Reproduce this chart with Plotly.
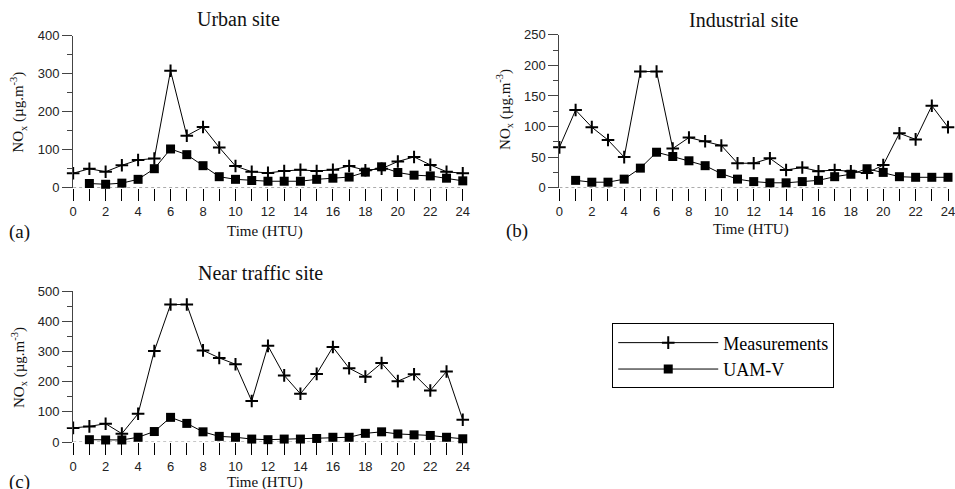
import plotly.graph_objects as go

hours = list(range(25))
hours_model = list(range(1, 25))

urban_meas = [38, 50, 42, 59, 73, 77, 308, 137, 160, 106, 57, 42, 39, 44, 47, 44, 47, 57, 46, 50, 69, 81, 60, 42, 38]
urban_model = [11, 9, 12, 22, 50, 102, 87, 58, 29, 22, 19, 17, 17, 17, 22, 25, 28, 41, 55, 40, 33, 31, 25, 18]

ind_meas = [66, 127, 99, 78, 50, 190, 190, 64, 82, 76, 69, 40, 40, 48, 29, 33, 27, 29, 27, 24, 37, 89, 79, 134, 99]
ind_model = [12, 9, 9, 14, 32, 58, 51, 44, 36, 23, 14, 10, 8, 8, 10, 12, 18, 22, 31, 25, 18, 17, 17, 17]

traf_meas = [47, 52, 61, 28, 94, 302, 456, 456, 304, 279, 258, 136, 319, 221, 160, 226, 315, 245, 217, 262, 202, 225, 171, 234, 74]
traf_model = [8, 7, 7, 16, 35, 82, 62, 34, 19, 16, 10, 8, 10, 10, 12, 16, 16, 29, 34, 27, 24, 22, 16, 11]

x_tickvals = list(range(25))
x_ticktext = [str(h) if h % 2 == 0 else "" for h in x_tickvals]

titles = ["Urban site", "Industrial site", "Near traffic site"]
letters = ["(a)", "(b)", "(c)"]
y_max = [400, 250, 500]
y_dtick = [100, 50, 100]
y_minor = [50, 25, 50]

W, H = 955, 489
# empirical correction of the rendering (offset/scale seen in the screenshot)
VOFF, VSCALE = 8.3, 0.964
HOFF, HSCALE = 2.6, 0.992
def px(x):
    return min(1.0, ((x - HOFF) / HSCALE) / W)
def py(y):
    return 1 - ((y - VOFF) / VSCALE) / H

# panel geometry (target pixels in the picture)
panels = [
    dict(x0=72, x1=463, ytop=37, ybot=188),
    dict(x0=560, x1=954, ytop=36, ybot=188),
    dict(x0=72, x1=463, ytop=291, ybot=441),
]

series = [(urban_meas, urban_model), (ind_meas, ind_model), (traf_meas, traf_model)]

fig = go.Figure()
SERIF = "Liberation Serif, Times New Roman, serif"
SANS = "Liberation Sans, Arial, sans-serif"

for i, (meas, model) in enumerate(series):
    sfx = "" if i == 0 else str(i + 1)
    fig.add_trace(go.Scatter(
        x=hours, y=meas, mode="lines+markers", name="Measurements",
        xaxis="x" + sfx, yaxis="y" + sfx, showlegend=(i == 0), cliponaxis=False,
        line=dict(color="black", width=1),
        marker=dict(symbol="cross-thin", size=9, line=dict(color="black", width=2)),
    ))
    fig.add_trace(go.Scatter(
        x=hours_model, y=model, mode="lines+markers", name="UAM-V",
        xaxis="x" + sfx, yaxis="y" + sfx, showlegend=(i == 0), cliponaxis=False,
        line=dict(color="black", width=1),
        marker=dict(symbol="square", size=9, color="black"),
    ))

layout = dict(
    width=W, height=H, margin=dict(l=0, r=0, t=0, b=0),
    paper_bgcolor="white", plot_bgcolor="white", showlegend=True,
    legend=dict(x=px(613), y=py(323), xanchor="left", yanchor="top",
                bordercolor="black", borderwidth=1, bgcolor="white",
                font=dict(family=SERIF, size=18, color="black"),
                tracegroupgap=0, itemwidth=100),
)
annotations = []
shapes = []
for i, p in enumerate(panels):
    sfx = "" if i == 0 else str(i + 1)
    layout["xaxis" + sfx] = dict(
        domain=[px(p["x0"]), px(p["x1"])], range=[0, 24], anchor="y" + sfx,
        tickvals=x_tickvals, ticktext=x_ticktext, ticks="outside", ticklen=12,
        tickcolor="black", tickwidth=1, showline=False, showgrid=False, zeroline=False,
        ticklabeloverflow="allow",
        tickfont=dict(family=SANS, size=13, color="#222"),
    )
    layout["yaxis" + sfx] = dict(
        domain=[py(p["ybot"]), py(p["ytop"])], range=[0, y_max[i]], anchor="x" + sfx,
        dtick=y_dtick[i], tick0=0, ticks="outside", ticklen=10, tickcolor="#444",
        showline=True, linecolor="#444", linewidth=1, showgrid=False, zeroline=False,
        tickfont=dict(family=SANS, size=13, color="#222"),
        minor=dict(dtick=y_minor[i], ticks="outside", ticklen=5, tickcolor="#444"),
    )
    shapes.append(dict(type="line", xref="x" + sfx, yref="y" + sfx, x0=0, x1=24, y0=0, y1=0,
                       line=dict(color="#777", width=1, dash="dot"), layer="below"))

title_pos = [(238, 20), (745, 21), (260, 273)]
time_pos = [(265, 232), (752, 230), (265, 481)]
letter_pos = [(18, 232), (517, 231), (18, 481)]
ytitle_pos = [(17, 113), (505, 110), (17, 367)]

def ann(text, pos, size, angle=0):
    return dict(text=text, x=px(pos[0]), y=py(pos[1]), xref="paper", yref="paper",
                xanchor="center", yanchor="middle", showarrow=False, textangle=angle,
                font=dict(family=SERIF, size=size, color="#111"))

for i in range(3):
    annotations.append(ann(titles[i], title_pos[i], 20))
    annotations.append(ann("Time (HTU)", time_pos[i], 15))
    annotations.append(ann(letters[i], letter_pos[i], 19))
    annotations.append(ann("NO<sub>x</sub> (µg.m<sup>-3</sup>)", ytitle_pos[i], 15, -90))

layout["annotations"] = annotations
layout["shapes"] = shapes
fig.update_layout(**layout)
fig.write_html("out.html", config={"displayModeBar": False},
               post_script="document.body.style.margin='0';document.body.style.overflow='hidden';")
